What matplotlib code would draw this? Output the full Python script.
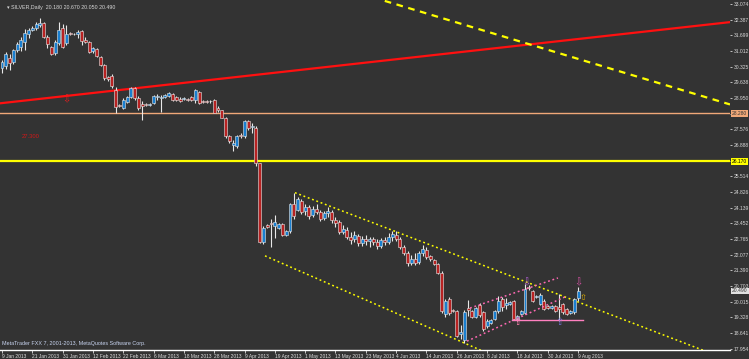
import matplotlib.pyplot as plt
import numpy as np

plt.rcParams['font.family'] = ['Liberation Sans', 'DejaVu Sans']

# daily bars, 9 Jan 2013 .. 9 Aug 2013
o = [30.26,30.35,30.70,30.52,31.05,31.18,31.40,31.75,31.93,32.02,32.15,32.24,31.62,31.18,30.92,31.36,32.02,31.36,31.80,31.75,
     31.75,31.89,31.49,31.40,31.01,31.09,30.74,30.39,29.86,29.91,29.29,28.63,28.50,28.76,28.98,29.38,28.94,28.67,28.67,28.63,
     28.72,28.98,28.94,28.98,29.03,29.11,28.98,28.89,28.89,28.89,28.98,28.85,29.20,28.81,28.81,28.81,28.85,28.50,28.41,28.06,
     27.27,26.87,26.83,27.35,27.27,27.93,27.66,27.62,26.08,22.65,23.39,23.48,23.35,23.26,23.44,22.95,23.13,24.32,24.05,24.45,
     24.01,24.19,23.83,24.10,23.97,23.70,23.92,23.97,23.61,23.53,23.09,23.17,22.87,22.78,22.91,22.60,22.78,22.69,22.78,22.65,
     22.47,22.73,22.65,22.87,22.95,22.78,22.43,22.16,21.72,21.90,21.77,22.16,22.29,22.03,21.85,21.68,21.28,19.48,20.14,19.65,
     19.61,18.60,18.33,19.74,19.61,19.35,19.87,19.57,18.95,19.08,19.26,19.61,20.14,19.87,19.92,20.05,19.26,19.48,19.52,20.67,
     20.49,20.23,19.92,20.05,19.83,19.74,19.83,19.79,19.92,19.70,19.52,19.57,20.18]
h = [30.61,30.96,30.87,31.09,31.40,31.62,31.97,32.02,32.11,32.28,32.46,32.28,31.71,31.23,31.49,32.28,32.19,32.15,31.84,31.80,
     31.93,31.93,31.62,31.45,31.18,31.14,30.79,30.43,29.91,29.99,29.42,28.67,28.94,29.03,29.42,29.42,29.03,28.81,28.72,28.72,
     29.07,29.11,29.07,29.11,29.20,29.16,29.03,28.98,28.98,28.94,29.03,29.33,29.25,28.85,28.85,28.85,28.89,28.59,28.41,28.10,
     27.31,27.09,27.35,27.40,27.97,27.97,27.84,27.71,26.12,23.35,23.44,23.66,23.83,23.48,23.48,23.17,24.36,24.80,24.63,24.54,
     24.32,24.27,24.23,24.32,24.05,24.01,24.19,24.05,23.75,23.61,23.39,23.31,23.09,23.13,23.00,22.91,22.95,22.87,22.87,22.78,
     22.82,22.87,23.04,23.13,23.13,22.87,22.51,22.25,22.07,22.16,22.25,22.51,22.43,22.07,21.90,21.72,21.37,20.14,20.23,19.70,
     19.65,18.99,19.65,20.09,19.65,19.79,19.96,19.61,19.26,19.26,19.65,20.27,20.23,20.18,20.05,20.09,19.43,19.65,20.80,20.75,
     20.53,20.31,20.40,20.14,19.87,19.87,19.87,20.36,19.96,19.74,19.65,20.18,20.67]
l = [30.04,30.21,30.17,30.43,30.96,31.01,31.05,31.58,31.89,31.93,32.06,31.58,31.14,30.83,30.83,31.27,31.14,31.27,31.71,31.71,
     31.58,31.27,31.36,30.92,30.92,30.74,30.35,29.73,29.69,29.38,28.28,28.54,28.45,28.72,28.94,28.85,28.41,27.97,28.59,28.59,
     28.67,28.85,28.32,28.94,28.98,28.81,28.81,28.76,28.85,28.81,28.81,28.72,28.67,28.72,28.72,28.72,28.28,28.32,28.06,27.22,
     26.96,26.61,26.78,27.22,27.22,27.57,27.40,25.99,22.60,22.56,23.26,22.43,22.82,23.22,22.91,22.91,23.04,23.66,24.01,23.88,
     23.83,23.66,23.75,23.88,23.57,23.61,23.75,23.48,23.31,23.00,23.00,22.78,22.56,22.65,22.47,22.47,22.51,22.43,22.51,22.34,
     22.38,22.51,22.56,22.69,22.69,22.34,22.07,21.59,21.63,21.63,21.68,22.03,21.90,21.81,21.63,21.24,19.52,19.35,19.43,19.57,
     18.47,18.38,18.20,19.39,19.30,19.30,19.35,18.73,18.86,19.04,19.21,19.52,19.61,19.70,19.87,19.21,19.17,19.43,19.48,20.53,
     20.01,20.18,19.87,19.65,19.70,19.70,19.57,19.17,19.48,19.43,19.48,19.48,20.05]
c = [30.52,30.87,30.48,31.05,31.31,31.49,31.80,31.93,32.02,32.19,32.24,31.62,31.31,30.87,31.40,31.93,31.18,31.75,31.75,31.76,
     31.84,31.45,31.40,30.96,31.14,30.79,30.39,29.82,29.77,29.47,28.54,28.59,28.85,28.98,29.38,28.94,28.50,28.59,28.63,28.67,
     29.03,29.03,28.98,29.07,29.16,28.85,28.85,28.81,28.94,28.85,28.85,29.29,28.72,28.76,28.76,28.80,28.28,28.41,28.06,27.27,
     27.05,26.96,27.27,27.27,27.93,27.62,27.71,26.12,22.65,23.26,23.31,23.44,23.53,23.44,22.95,23.13,24.32,23.79,24.54,23.97,
     24.19,23.79,24.10,23.97,23.66,23.92,24.01,23.61,23.48,23.09,23.22,22.87,22.73,22.95,22.60,22.78,22.69,22.78,22.65,22.47,
     22.73,22.65,22.87,23.00,22.78,22.43,22.16,21.72,21.90,21.72,22.16,22.34,21.99,21.90,21.68,21.28,19.61,20.05,19.52,19.61,
     18.51,18.69,19.57,19.65,19.35,19.74,19.43,18.82,19.17,19.21,19.61,20.05,19.79,19.96,20.01,19.26,19.39,19.61,20.58,20.62,
     20.05,20.27,20.31,19.70,19.74,19.83,19.61,19.70,19.57,19.48,19.61,20.14,20.49]

date_labels = ["9 Jan 2013", "21 Jan 2013", "31 Jan 2013", "12 Feb 2013", "22 Feb 2013", "6 Mar 2013",
               "18 Mar 2013", "28 Mar 2013", "9 Apr 2013", "19 Apr 2013", "1 May 2013", "13 May 2013",
               "23 May 2013", "4 Jun 2013", "14 Jun 2013", "26 Jun 2013", "8 Jul 2013", "18 Jul 2013",
               "30 Jul 2013", "9 Aug 2013"]
price_ticks = [33.074, 32.387, 31.699, 31.012, 30.325, 29.638, 28.950, 28.263, 27.576, 26.888, 26.201, 25.514,
               24.826, 24.139, 23.452, 22.765, 22.077, 21.390, 20.703, 20.015, 19.328, 18.641, 17.954]

# levels and drawn trend lines (bar index, price)
salmon_level = 28.28
yellow_level = 26.17
red_trend = [(-0.5, 28.72), (192.1, 32.28)]
yellow_long = [(101.0, 33.21), (192.1, 28.67)]
chan_upper = [(77.3, 24.80), (185.0, 17.89)]
chan_lower = [(69.4, 22.03), (126.9, 17.85)]
pink_upper = [(123.5, 19.74), (146.7, 21.06)]
pink_lower = [(122.7, 18.29), (149.1, 20.27)]
pink_flat = [(134.6, 19.21), (153.3, 19.21)]

bg = '#333333'
fig = plt.figure(figsize=(7.49, 3.59), dpi=100, facecolor=bg)
ax = fig.add_axes([0, 0.0250, 730/749, 0.9750], facecolor=bg)

n = len(c)
x = np.arange(n)
o = np.array(o); c = np.array(c); h = np.array(h); l = np.array(l)
up = c >= o
cols = np.where(up, '#1a7fd0', '#b82222')

ax.vlines(x, l, h, color='#e8e8e8', lw=0.8, zorder=3)
body = np.maximum(np.abs(c - o), 0.03)
ax.bar(x, body, bottom=np.minimum(o, c), width=0.78, color=cols, edgecolor='#e8e8e8',
       linewidth=0.4, zorder=4)

ax.axhline(salmon_level, color='#f0a878', lw=1, zorder=2)
ax.axhline(yellow_level, color='#ffff00', lw=1.6, zorder=2)

def seg(pts, **kw):
    ax.plot([p[0] for p in pts], [p[1] for p in pts], **kw)

seg(red_trend, color='#ff1010', lw=1.6, zorder=2)
seg(yellow_long, color='#ffff00', lw=1.6, ls=(0, (3, 2.5)), zorder=2)
seg(chan_upper, color='#ffff00', lw=1.1, ls=(0, (1.2, 1.8)), zorder=2)
seg(chan_lower, color='#ffff00', lw=1.1, ls=(0, (1.2, 1.8)), zorder=2)
seg(pink_upper, color='#ff69b4', lw=1.1, ls=(0, (1.2, 1.8)), zorder=5)
seg(pink_lower, color='#ff69b4', lw=1.1, ls=(0, (1.2, 1.8)), zorder=5)
seg(pink_flat, color='#ff80c0', lw=1.0, zorder=5)

# fractal arrows and labels
ax.text(16.9, 28.89, '⇩', color='#e02020', fontsize=7, ha='center', va='center', zorder=6)
ax.text(136.1, 19.13, '⇧', color='#ff80b0', fontsize=7, ha='center', va='center', zorder=6)
ax.text(147.2, 19.13, '⇧', color='#7070d0', fontsize=7, ha='center', va='center', zorder=6)
ax.text(138.3, 20.89, '⇩', color='#b060d0', fontsize=7, ha='center', va='center', zorder=6)
ax.text(152.2, 20.89, '⇩', color='#d050a0', fontsize=7, ha='center', va='center', zorder=6)
ax.text(153.4, 20.18, '⇧', color='#e0b000', fontsize=6, ha='center', va='center', zorder=6)
ax.text(5.3, 27.27, '27.300', color='#d01818', fontsize=4.2, ha='left', va='center')

ax.text(0.01, 0.985, '▾ SILVER,Daily  20.180 20.670 20.050 20.490', transform=ax.transAxes,
        color='#d8d8d8', fontsize=3.8, ha='left', va='top')
ax.text(0.003, 0.012, 'MetaTrader FXX 7, 2001-2013, MetaQuotes Software Corp.', transform=ax.transAxes,
        color='#c8d4f0', fontsize=3.9, ha='left', va='bottom')

ax.set_xlim(-0.53, 192.1)
ax.set_ylim(17.90, 33.25)

# tick labels hidden behind the level boxes are left blank
hidden = [28.263, 26.201]
ax.yaxis.tick_right()
ax.set_yticks(price_ticks)
ax.set_yticklabels(['' if t in hidden else '%.3f' % t for t in price_ticks])
ax.tick_params(axis='y', colors='#d8d8d8', labelsize=3.6, length=1.5, pad=1.2, width=0.6)
ax.set_xticks(np.arange(0, 8 * len(date_labels), 8))
ax.set_xticklabels(date_labels, ha='left')
ax.tick_params(axis='x', colors='#e0e0e0', labelsize=3.5, length=2.5, pad=0.3, width=0.6)

for s in ['top', 'left', 'right']:
    ax.spines[s].set_visible(False)
ax.spines['bottom'].set_color('white')
ax.spines['bottom'].set_linewidth(1)

# price boxes on the right scale
for val, fc, tc in [(salmon_level, '#f0a878', '#333333'), (yellow_level, '#ffff00', '#000000'), (c[-1], '#e0e0e0', '#333333')]:
    ax.text(1.003, val, '%.3f' % val, transform=ax.get_yaxis_transform(), fontsize=3.6, color=tc,
            ha='left', va='center', clip_on=False, zorder=10,
            bbox=dict(boxstyle='square,pad=0.15', fc=fc, ec='none'))

fig.savefig('out.png', dpi=100, facecolor=bg)
